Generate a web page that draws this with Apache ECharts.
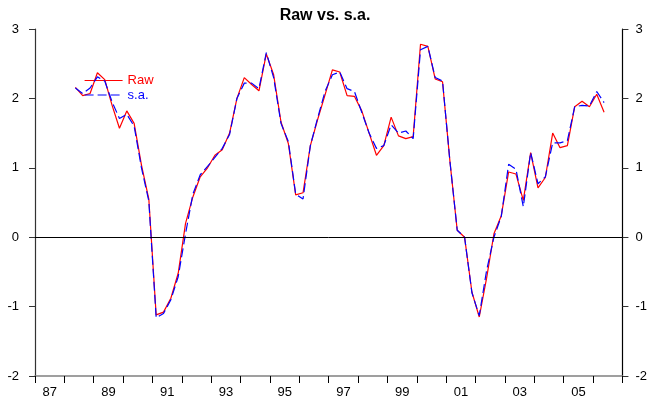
<!DOCTYPE html>
<html>
<head>
<meta charset="utf-8">
<script src="https://cdn.jsdelivr.net/npm/echarts@6/dist/echarts.min.js"></script>
<style>
html,body{margin:0;padding:0;background:#fff;}
#chart{width:650px;height:402px;}
</style>
</head>
<body>
<div id="chart"></div>
<script>
// Quarterly data, first observation 1988 Q2
const firstYear = 1988;
const firstQuarter = 2;
const yearLabels = ['87','88','89','90','91','92','93','94','95','96','97','98','99','00','01','02','03','04','05','06'];
const yTicks = [-2, -1, 0, 1, 2, 3];
const raw = [
  2.16, 2.04, 2.07, 2.37, 2.27, 1.90, 1.57, 1.82, 1.64, 1.04,
  0.55, -1.12, -1.08, -0.88, -0.52, 0.20, 0.58, 0.87, 1.00, 1.18,
  1.26, 1.50, 2.00, 2.30, 2.20, 2.11, 2.64, 2.34, 1.66, 1.35,
  0.61, 0.64, 1.32, 1.70, 2.05, 2.41, 2.38, 2.04, 2.03, 1.82,
  1.50, 1.18, 1.32, 1.73, 1.46, 1.42, 1.45, 2.78, 2.75, 2.28,
  2.24, 1.10, 0.10, 0.00, -0.79, -1.15, -0.59, 0.05, 0.31, 0.94,
  0.91, 0.53, 1.22, 0.71, 0.86, 1.50, 1.29, 1.32, 1.88, 1.96,
  1.88, 2.06, 1.80
];
const sa = [
  2.15, 2.07, 2.15, 2.31, 2.25, 1.95, 1.71, 1.77, 1.60, 1.00,
  0.52, -1.16, -1.10, -0.90, -0.57, 0.05, 0.62, 0.90, 1.02, 1.15,
  1.28, 1.48, 2.00, 2.22, 2.22, 2.14, 2.66, 2.30, 1.64, 1.38,
  0.62, 0.55, 1.32, 1.72, 2.10, 2.34, 2.38, 2.14, 2.10, 1.80,
  1.50, 1.28, 1.32, 1.62, 1.50, 1.53, 1.42, 2.70, 2.75, 2.30,
  2.25, 1.10, 0.10, 0.00, -0.80, -1.13, -0.48, 0.00, 0.30, 1.05,
  0.98, 0.44, 1.22, 0.77, 0.87, 1.36, 1.36, 1.39, 1.88, 1.90,
  1.89, 2.10, 1.94
];

function timeOf(i) {
  const q = firstQuarter - 1 + i;
  return firstYear + Math.floor(q / 4) + ((q % 4) + 0.5) / 4;
}
const rawData = raw.map((v, i) => [timeOf(i), v]);
const saData = sa.map((v, i) => [timeOf(i), v]);

const font = 'Liberation Sans, Arial, sans-serif';
const chart = echarts.init(document.getElementById('chart'), null, {renderer: 'canvas'});
chart.setOption({
  animation: false,
  backgroundColor: '#fff',
  title: {
    text: 'Raw vs. s.a.',
    left: 'center',
    top: 3,
    textStyle: {fontFamily: font, fontSize: 16, fontWeight: 'bold', color: '#000'}
  },
  legend: {
    orient: 'vertical',
    left: 84,
    top: 74,
    padding: 0,
    itemWidth: 38,
    itemHeight: 12,
    itemGap: 1.5,
    itemStyle: {color: 'transparent', borderWidth: 0, opacity: 0},
    lineStyle: {width: 1.2},
    textStyle: {fontFamily: font, fontSize: 13},
    data: [
      {name: 'Raw', textStyle: {color: '#ff0000'}},
      {name: 's.a.', textStyle: {color: '#0000ff'}}
    ]
  },
  grid: {left: 35, right: 27, top: 29, bottom: 26},
  xAxis: [
    {
      type: 'category',
      data: yearLabels,
      boundaryGap: true,
      position: 'bottom',
      axisLine: {show: true, onZero: false, lineStyle: {color: '#808080', width: 1.5}},
      axisTick: {show: true, interval: 0, length: 7, lineStyle: {color: '#000'}},
      axisLabel: {interval: 1, margin: 10, fontFamily: font, fontSize: 13, color: '#000'},
      splitLine: {show: false}
    },
    {
      type: 'value',
      min: 1987,
      max: 2007,
      show: false
    }
  ],
  yAxis: [
    {
      type: 'value',
      position: 'left',
      min: yTicks[0],
      max: yTicks[yTicks.length - 1],
      interval: 1,
      axisLine: {show: true, onZero: false, lineStyle: {color: '#333', width: 1.2}},
      axisTick: {show: true, length: 6, lineStyle: {color: '#333'}},
      axisLabel: {margin: 16, fontFamily: font, fontSize: 13, color: '#000'},
      splitLine: {show: false}
    },
    {
      type: 'value',
      position: 'right',
      min: yTicks[0],
      max: yTicks[yTicks.length - 1],
      interval: 1,
      axisLine: {show: true, onZero: false, lineStyle: {color: '#000', width: 1.2}},
      axisTick: {show: true, length: 6, lineStyle: {color: '#333'}},
      axisLabel: {margin: 13, fontFamily: font, fontSize: 13, color: '#000'},
      splitLine: {show: false}
    }
  ],
  series: [
    {
      name: 'Raw',
      type: 'line',
      xAxisIndex: 1,
      yAxisIndex: 0,
      data: rawData,
      symbol: 'none',
      color: '#ff0000',
      lineStyle: {color: '#ff0000', width: 1.2},
      z: 3,
      markLine: {
        silent: true,
        symbol: 'none',
        label: {show: false},
        lineStyle: {color: '#000', width: 1, type: 'solid'},
        data: [{yAxis: 0}]
      }
    },
    {
      name: 's.a.',
      type: 'line',
      xAxisIndex: 1,
      yAxisIndex: 0,
      data: saData,
      symbol: 'none',
      color: '#0000ff',
      lineStyle: {color: '#0000ff', width: 1.2, type: [9, 4]},
      z: 4
    }
  ]
});
</script>
</body>
</html>
